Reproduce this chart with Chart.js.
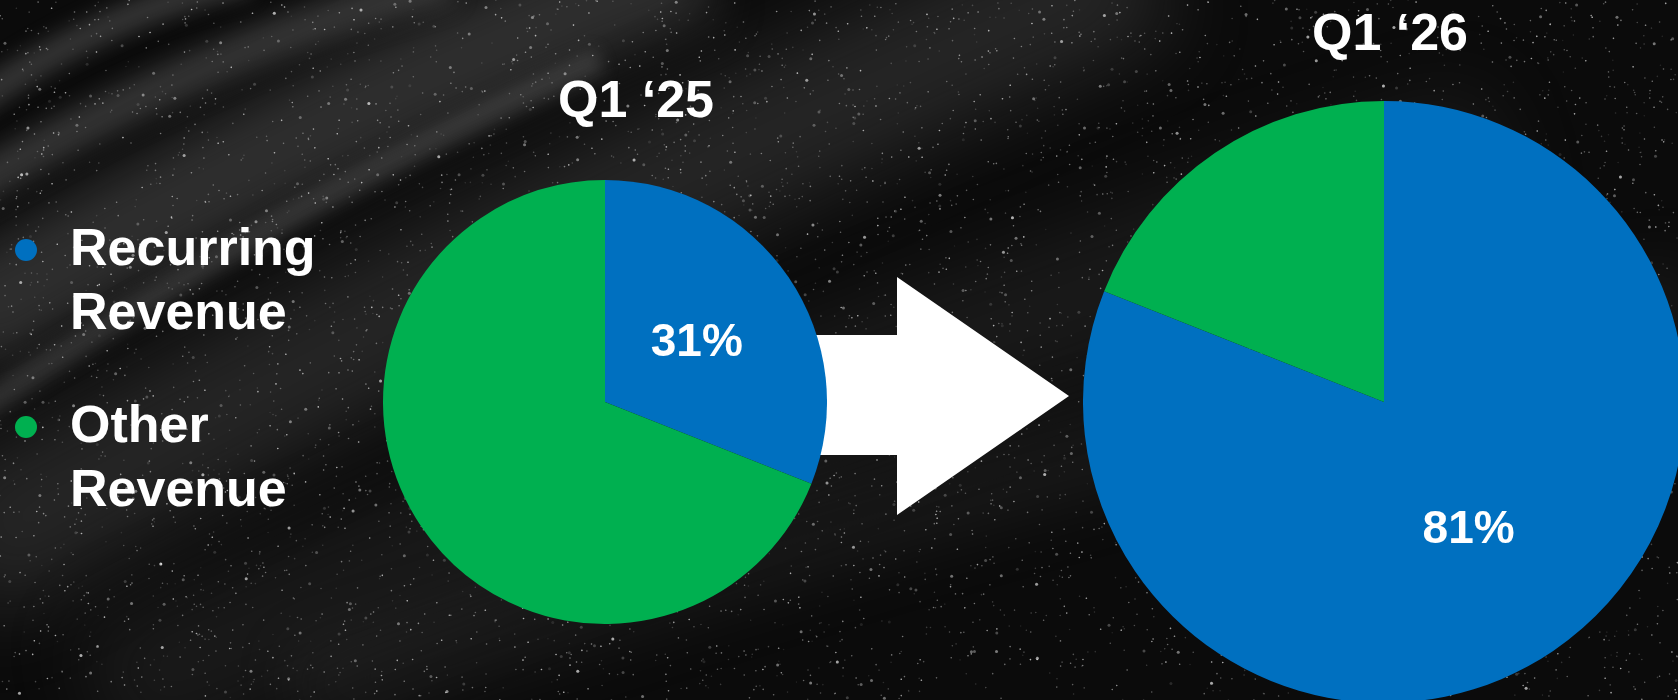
<!DOCTYPE html>
<html>
<head>
<meta charset="utf-8">
<script src="https://cdn.jsdelivr.net/npm/chart.js@4/dist/chart.umd.min.js"></script>
<style>
  html, body { margin:0; padding:0; width:1678px; height:700px; overflow:hidden; background:#0c0c0c; }
  body { position:relative; font-family:"Liberation Sans", Arial, sans-serif; }
  canvas { position:absolute; display:block; }
  .txt { position:absolute; color:#fff; font-weight:bold; font-size:52px; line-height:64px; white-space:nowrap; }
  .title { text-align:center; width:300px; }
  .dot { position:absolute; width:22px; height:22px; border-radius:50%; }
</style>
</head>
<body>
<canvas id="bg" width="1678" height="700" style="left:0;top:0"></canvas>
<canvas id="arrow" width="1678" height="700" style="left:0;top:0"></canvas>
<canvas id="pieA" width="444" height="444" style="left:383px;top:180px"></canvas>
<canvas id="pieB" width="602" height="602" style="left:1083px;top:101px"></canvas>

<div class="dot" id="dot0" style="left:15px;top:239px"></div>
<div class="txt" id="leg0" style="left:70px;top:215px"></div>
<div class="dot" id="dot1" style="left:15px;top:416px"></div>
<div class="txt" id="leg1" style="left:70px;top:392px"></div>
<div class="txt title" id="t0" style="left:486px;top:67px"></div>
<div class="txt title" id="t1" style="left:1240px;top:0px"></div>

<script>
// ---- data ----
const categories = ["Recurring Revenue", "Other Revenue"];
const legendLines = [["Recurring", "Revenue"], ["Other", "Revenue"]];
const periods = ["Q1 \u201825", "Q1 \u201826"];
const q1_25 = [31, 69];
const q1_26 = [81, 19];
const colors = ["#0070C0", "#00B050"];

// ---- background texture (decorative) ----
(function(){
  const c = document.getElementById('bg').getContext('2d');
  c.fillStyle = '#0b0b0b'; c.fillRect(0,0,1678,700);
  function band(x0,y0,x1,y1,w,a,b){
    c.save(); c.strokeStyle = 'rgba(130,130,130,'+a+')'; c.lineWidth = w;
    c.filter = 'blur(' + b + 'px)';
    c.beginPath(); c.moveTo(x0,y0); c.quadraticCurveTo((x0+x1)/2, (y0+y1)/2 - 40, x1,y1); c.stroke(); c.restore();
  }
  band(-50,330,700,-40,110,0.30,25);
  band(-50,560,1150,-40,150,0.22,40);
  band(100,700,1500,150,140,0.12,40);
  band(-50,200,450,-20,40,0.35,12);
  band(-50,120,250,-20,30,0.35,10);
  band(-50,430,600,60,25,0.28,8);
  band(300,700,1700,300,90,0.10,30);
  // speckles (deterministic)
  let s = 12345;
  function rnd(){ s = (s*1103515245 + 12345) % 2147483648; return s/2147483648; }
  for (let i=0;i<9000;i++){
    const x = rnd()*1678, y = rnd()*700;
    const a = 0.15 + rnd()*0.6, r = rnd()<0.92 ? 0.8 : 1.5;
    c.fillStyle = 'rgba(255,255,255,'+(a*0.6)+')';
    c.beginPath(); c.arc(x,y,r,0,Math.PI*2); c.fill();
  }
})();

// ---- arrow (decorative shape) ----
(function(){
  const c = document.getElementById('arrow').getContext('2d');
  c.fillStyle = '#ffffff';
  c.beginPath();
  c.moveTo(760,335); c.lineTo(897,335); c.lineTo(897,277); c.lineTo(1069,396);
  c.lineTo(897,515); c.lineTo(897,455); c.lineTo(760,455); c.closePath(); c.fill();
})();

// ---- HTML text ----
document.getElementById('leg0').innerHTML = legendLines[0].join('<br>');
document.getElementById('leg1').innerHTML = legendLines[1].join('<br>');
document.getElementById('dot0').style.background = colors[0];
document.getElementById('dot1').style.background = colors[1];
document.getElementById('t0').textContent = periods[0];
document.getElementById('t1').textContent = periods[1];

// ---- percentage label plugin ----
const pctLabel = {
  id: 'pctLabel',
  afterDatasetsDraw(chart) {
    const ctx = chart.ctx;
    const meta = chart.getDatasetMeta(0);
    const arc = meta.data[0];
    const v = chart.data.datasets[0].data[0];
    const mid = (arc.startAngle + arc.endAngle) / 2;
    const r = arc.outerRadius * 0.5;
    const x = arc.x + Math.cos(mid) * r;
    const y = arc.y + Math.sin(mid) * r;
    ctx.save();
    ctx.fillStyle = '#ffffff';
    ctx.font = 'bold 46px "Liberation Sans", Arial, sans-serif';
    ctx.textAlign = 'center';
    ctx.textBaseline = 'alphabetic';
    ctx.fillText(v + '%', x, y + 16.5);
    ctx.restore();
  }
};

function makePie(id, values, radius) {
  return new Chart(document.getElementById(id), {
    type: 'pie',
    data: {
      labels: categories,
      datasets: [{ data: values, backgroundColor: colors, borderWidth: 0, hoverOffset: 0, offset: 0 }]
    },
    options: {
      responsive: false,
      animation: false,
      events: [],
      radius: radius,
      layout: { padding: 0 },
      plugins: { legend: { display: false }, tooltip: { enabled: false }, title: { display: false } }
    },
    plugins: [pctLabel]
  });
}
makePie('pieA', q1_25, 222);
makePie('pieB', q1_26, 301);
</script>
</body>
</html>
